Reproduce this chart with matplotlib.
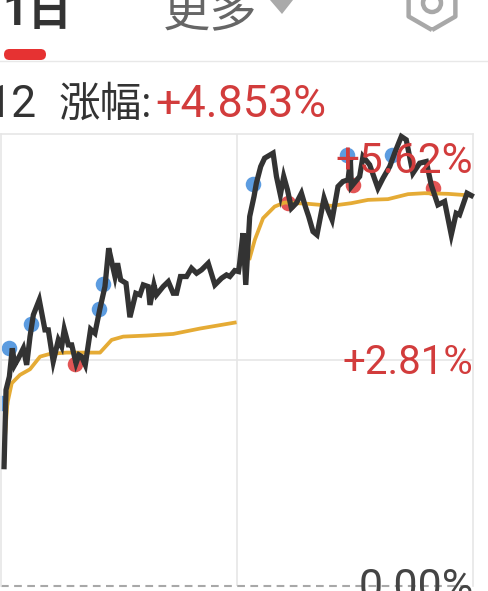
import matplotlib
matplotlib.use('Agg')
import matplotlib.pyplot as plt
from matplotlib.patches import FancyBboxPatch, Polygon, RegularPolygon, Circle

plt.rcParams['font.family'] = ['Roboto', 'Noto Sans CJK SC', 'DejaVu Sans']

# minutes since open, percent change
price_t = [1.3, 2.3, 4.0, 5.5, 6.7, 8.6, 11.1, 12.8, 14.5, 16.2, 19.2, 22.1, 23.8, 26.3, 28.9, 30.6,
           31.9, 34.0, 35.7, 37.9, 39.4, 40.7, 42.6, 45.3, 47.5, 50.1, 52.6, 54.5, 56.2, 57.7, 59.0,
           60.6, 63.3, 65.3, 68.3, 70.4, 72.1, 74.6, 75.5, 77.5, 78.8, 82.2, 84.8, 87.3, 89.0, 91.0,
           94.1, 96.6, 99.2, 101.7, 105.1, 108.5, 111.9, 114.4, 116.1, 118.6, 120.5,
           121.1, 122.8, 124.2, 126.2, 128.4, 129.6, 131.8, 133.8, 138.1, 139.8, 141.8, 143.5, 145.4,
           147.4, 149.9, 152.5, 154.5, 156.2, 158.4, 160.4, 164.0, 166.0, 168.1, 171.1, 173.6, 176.2,
           177.4, 177.9, 182.1, 183.8, 187.2, 191.4, 194.0, 197.4, 199.9, 203.3, 205.8, 209.2, 212.6,
           216.0, 218.5, 221.9, 225.3, 228.7, 231.2, 232.9, 236.7, 238.9]
price_p = [1.484, 2.438, 2.604, 2.956, 2.749, 2.832, 2.956, 2.749, 3.101, 3.371, 3.557, 3.184, 3.184,
           2.790, 3.060, 2.977, 3.192, 2.998, 2.998, 2.770, 2.873, 2.853, 2.749, 3.192, 3.143, 3.454,
           3.723, 4.200, 4.013, 3.848, 4.013, 3.806, 3.765, 3.342, 3.640, 3.620, 3.744, 3.723, 3.495,
           3.744, 3.620, 3.723, 3.785, 3.640, 3.640, 3.848, 3.848, 3.951, 3.889, 3.930, 4.013, 3.744,
           3.827, 3.868, 3.848, 3.922, 3.910,
           4.014, 4.387, 3.744, 4.594, 4.843, 5.009, 5.216, 5.320, 5.382, 5.092, 4.864, 5.092, 4.926,
           4.698, 4.760, 4.884, 4.718, 4.594, 4.407, 4.366, 4.822, 4.677, 4.553, 4.967, 5.029, 5.050,
           5.299, 4.967, 5.092, 5.340, 5.237, 4.946, 5.071, 5.216, 5.382, 5.589, 5.548, 5.133, 5.257,
           5.278, 4.988, 4.739, 4.781, 4.366, 4.635, 4.615, 4.884, 4.855]

avg_am_t = [1.3, 1.8, 3.0, 5.2, 9.4, 14.5, 19.6, 24.6, 33.1, 39.9, 50.1, 56.0, 61.9, 73.8, 87.3, 100.9, 118.6]
avg_am_p = [1.484, 1.857, 2.272, 2.521, 2.625, 2.695, 2.852, 2.886, 2.902, 2.902, 2.902, 3.060, 3.101,
            3.114, 3.134, 3.201, 3.275]
avg_pm_t = [126.2, 128.8, 133.0, 138.9, 144.0, 155.9, 167.7, 177.9, 186.4, 196.5, 206.7, 215.1, 227.0, 238.9]
avg_pm_p = [4.076, 4.304, 4.573, 4.718, 4.768, 4.752, 4.727, 4.760, 4.801, 4.810, 4.872, 4.884, 4.876, 4.855]

buy_t = [0.0, 3.8, 15.0, 49.6, 51.6, 127.8, 175.6, 198.4]
buy_p = [2.276, 2.96, 3.259, 3.445, 3.756, 5.0, 5.361, 5.361]
sell_t = [37.4, 145.6, 178.6, 219.3]
sell_p = [2.761, 4.764, 4.988, 4.950]

W, H = 489, 591
fig = plt.figure(figsize=(W / 100, H / 100), dpi=100)

# chart area
ax = fig.add_axes([1.5 / W, 5 / H, 472 / W, 452 / H])
ax.set_xlim(0, 240)
ax.set_ylim(0, 5.62)
ax.set_xticks([120])
ax.set_yticks([2.81])
ax.grid(color='#e6e6e6', lw=1.2)
ax.tick_params(length=0, labelbottom=False, labelleft=False)
ax.set_axisbelow(True)
for side in ['left', 'top', 'right']:
    ax.spines[side].set_color('#e6e6e6')
    ax.spines[side].set_linewidth(1.2)
ax.spines['bottom'].set_visible(False)
ax.axhline(0, color='#a8a8a8', lw=1.5, ls=(0, (3.7, 2.6)), clip_on=False)

ax.scatter(buy_t, buy_p, s=125, color='#5c9ce0', linewidths=0, zorder=2, clip_on=False)
ax.scatter(sell_t, sell_p, s=125, color='#e25555', linewidths=0, zorder=2, clip_on=False)
ax.plot(avg_am_t, avg_am_p, color='#e5ab35', lw=2.7, zorder=3)
ax.plot(avg_pm_t, avg_pm_p, color='#e5ab35', lw=2.7, zorder=3)
ax.plot(price_t, price_p, color='#333333', lw=3.8, zorder=4, clip_on=False, solid_joinstyle='miter')

ax.text(240, 5.28, '+5.62%', color='#d23c3c', fontsize=30.5, ha='right', va='center', zorder=5)
ax.text(240, 2.78, '+2.81%', color='#d23c3c', fontsize=29, ha='right', va='center', zorder=5)
ax.text(240, -0.02, '0.00%', color='#444444', fontsize=31, ha='right', va='center', zorder=5)

# header drawn in pixel space
top = fig.add_axes([0, 0, 1, 1], zorder=-1)
top.set_xlim(0, W)
top.set_ylim(H, 0)
top.axis('off')
top.text(2, 25, '1日', fontsize=32, fontweight='bold', color='#333333', va='baseline')
top.text(163, 27, '更多', fontsize=34, color='#666666', va='baseline')
top.add_patch(Polygon([(270, 0), (293, 0), (282, 14)], color='#aaaaaa', lw=0))
top.add_patch(RegularPolygon((432, 3), 6, radius=27, orientation=0, fill=False, ec='#a8a8a8', lw=3.2, joinstyle='round'))
top.add_patch(Circle((432, 3), 9, fill=False, ec='#a8a8a8', lw=3.2))
top.add_patch(FancyBboxPatch((4, 49), 42, 11, boxstyle='round,pad=0,rounding_size=5.5', color='#e63232', lw=0))
top.plot([0, W], [60.5, 60.5], color='#e8e8e8', lw=1)
top.text(36, 117, '12', fontsize=32, color='#333333', va='baseline', ha='right')
top.text(59, 117, '涨幅:', fontsize=30, color='#333333', va='baseline')
top.text(155, 117, '+4.853%', fontsize=32.4, color='#d23c3c', va='baseline')

fig.savefig('out.png', dpi=100)
